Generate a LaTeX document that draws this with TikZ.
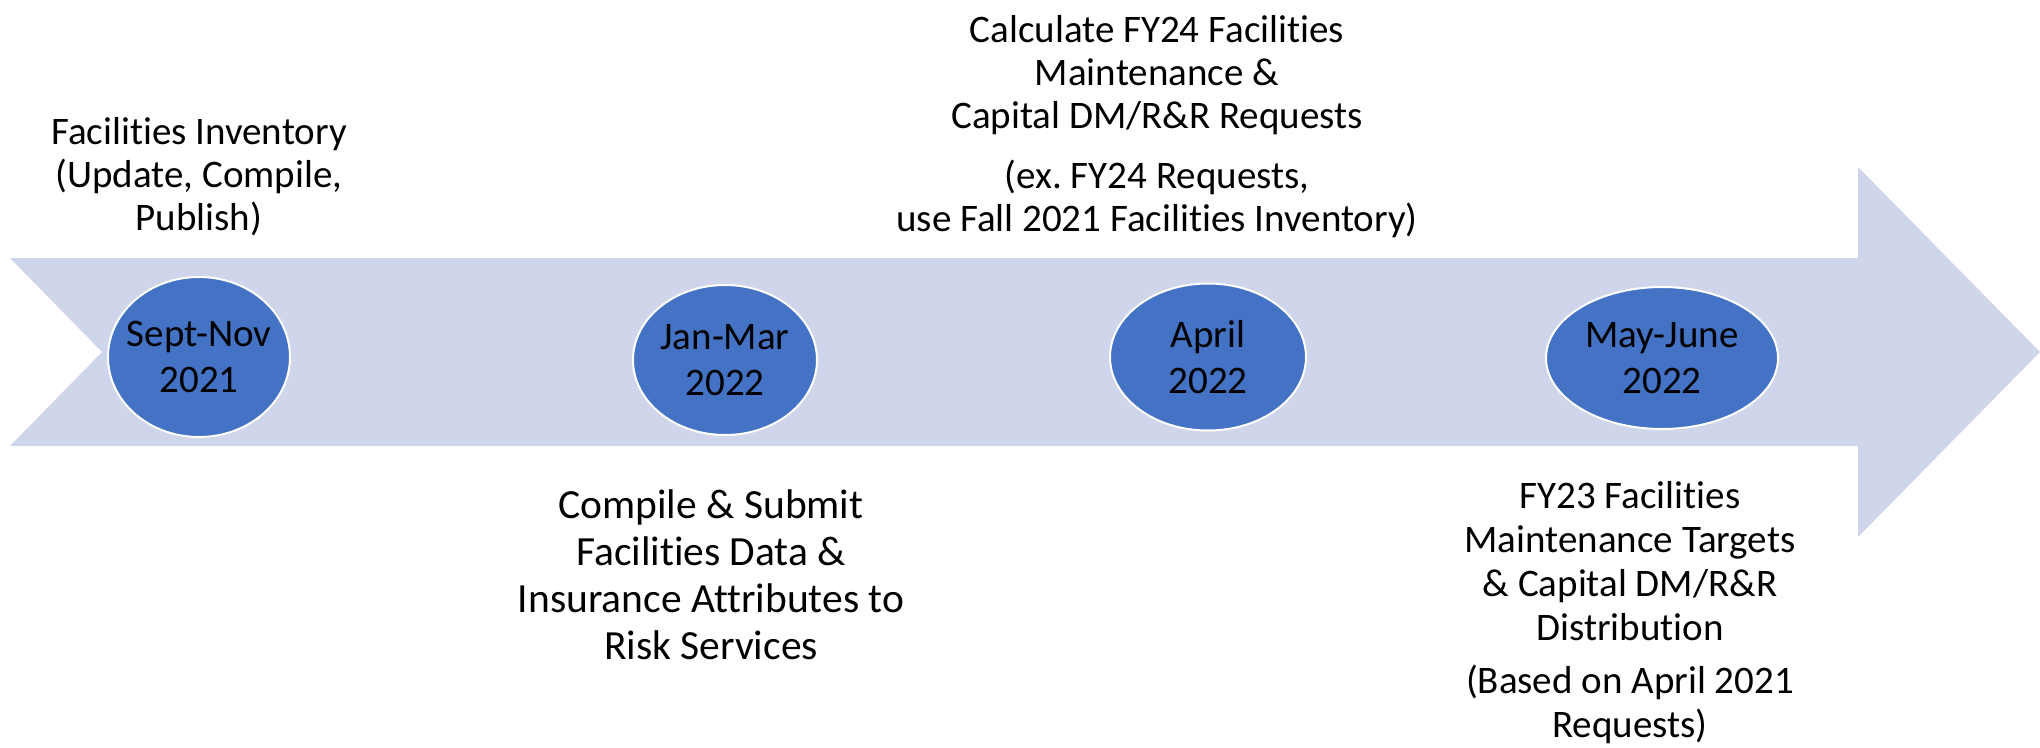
\documentclass[tikz,border=0pt]{standalone}
\usepackage{fontspec}
\setmainfont[Ligatures={NoCommon}]{Carlito}
\usetikzlibrary{shapes.geometric}
\definecolor{arrowfill}{HTML}{CFD5EA}
\definecolor{dotfill}{HTML}{4472C4}
\frenchspacing
\begin{document}
\begin{tikzpicture}[x=1pt,y=-1pt,
  milestone/.style={ellipse, fill=dotfill, draw=white, line width=2pt, inner sep=0pt},
  datetext/.style={align=center, inner sep=0pt, anchor=center, font=\fontsize{39}{46}\selectfont, text=black},
  note/.style={align=center, inner sep=0pt, anchor=base, font=\fontsize{39}{43}\selectfont, text=black},
  notebig/.style={note, font=\fontsize{41.5}{47}\selectfont}]
\useasboundingbox (0,0) rectangle (2040,747);
\fill[arrowfill] (10,258) -- (1858,258) -- (1858,167) -- (2040,352) -- (1858,537) -- (1858,446) -- (10,446) -- (102,352) -- cycle;
\node[milestone, minimum width=182pt, minimum height=160pt] (e1) at (199,357) {};
\node[milestone, minimum width=184pt, minimum height=150pt] (e2) at (725,360) {};
\node[milestone, minimum width=196pt, minimum height=147pt] (e3) at (1208,357) {};
\node[milestone, minimum width=232pt, minimum height=142pt] (e4) at (1662,358) {};
\node[datetext] (t1) at (e1.center) {Sept-Nov\\2021};
\node[datetext] (t2) at (e2.center) {Jan-Mar\\2022};
\node[datetext] (t3) at (e3.center) {April\\2022};
\node[datetext] (t4) at (e4.center) {May-June\\2022};
\node[note] (a) at (199,230) {Facilities Inventory\\(Update, Compile,\\Publish)};
\node[note] (b) at (1157,231) {Calculate FY24 Facilities\\Maintenance \&\\Capital DM/R\&R Requests\\[17pt](ex. FY24 Requests,\\use Fall 2021 Facilities Inventory)};
\node[notebig] (c) at (711,659) {Compile \& Submit\\Facilities Data \&\\Insurance Attributes to\\Risk Services};
\node[note, font=\fontsize{39}{44}\selectfont] (d) at (1630,737) {FY23 Facilities\\Maintenance Targets\\\& Capital DM/R\&R\\Distribution\\[9pt](Based on April 2021\\Requests)};
\end{tikzpicture}
\end{document}
